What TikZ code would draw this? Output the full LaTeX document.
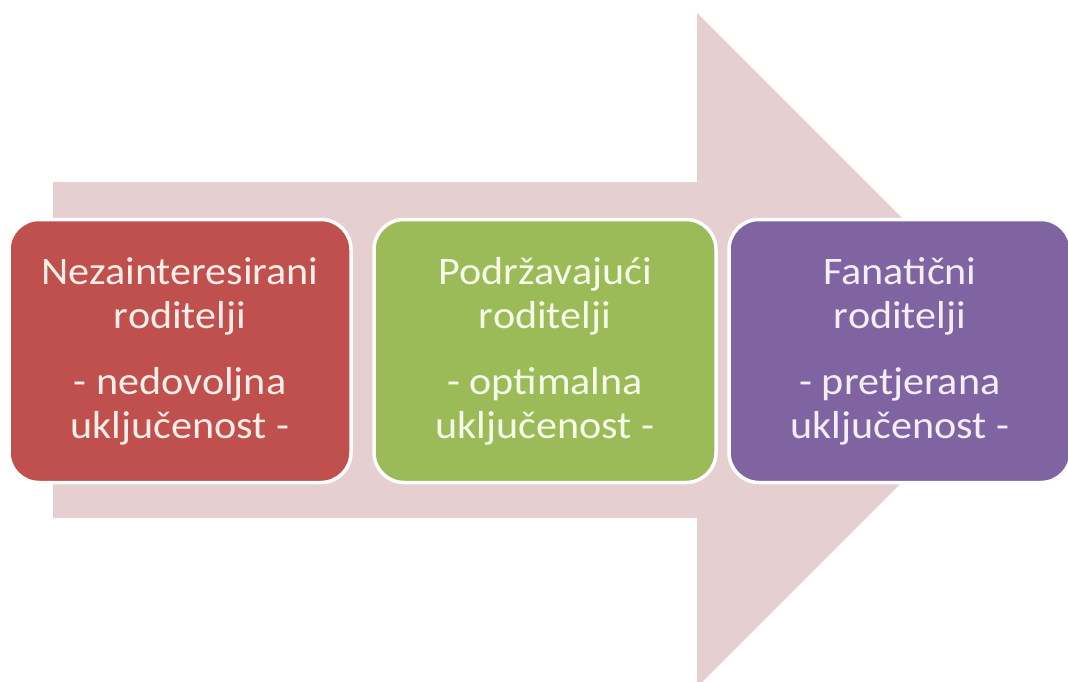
\documentclass[tikz,border=0pt]{standalone}
\usepackage{fontspec}
\setmainfont[FakeStretch=1.08]{Carlito}
\definecolor{arrowpink}{RGB}{229,207,208}
\definecolor{stagered}{RGB}{192,80,77}
\definecolor{stagegreen}{RGB}{155,187,89}
\definecolor{stagepurple}{RGB}{128,100,162}
\tikzset{
  stagebox/.style={draw=white, line width=3.5pt, rounded corners=30pt,
    minimum width=342pt, minimum height=263pt, align=center,
    font=\fontsize{39}{44}\selectfont}
}
\begin{document}
\begin{tikzpicture}[x=1pt, y=-1pt]
                \useasboundingbox (0,0) rectangle (1068,682);
                % Big background arrow
                \fill[arrowpink] (53,182) -- (697,182) -- (697,13) -- (1034,350)
                    -- (697,687) -- (697,518) -- (53,518) -- cycle;

                % The three kinds of parents
                \node[stagebox, fill=stagered, text={rgb,255:red,253;green,238;blue,234}] (nezain) at (180,351)
                    {Nezainteresirani\\roditelji\\[22pt]- nedovoljna\\uključenost -};
                \node[stagebox, fill=stagegreen, text={rgb,255:red,246;green,252;blue,232}] (podrz) at (545,351)
                    {Podržavajući\\roditelji\\[22pt]- optimalna\\uključenost -};
                \node[stagebox, fill=stagepurple, text={rgb,255:red,244;green,238;blue,250}] (fanat) at (900,351)
                    {Fanatični\\roditelji\\[22pt]- pretjerana\\uključenost -};
            \end{tikzpicture}
\end{document}
